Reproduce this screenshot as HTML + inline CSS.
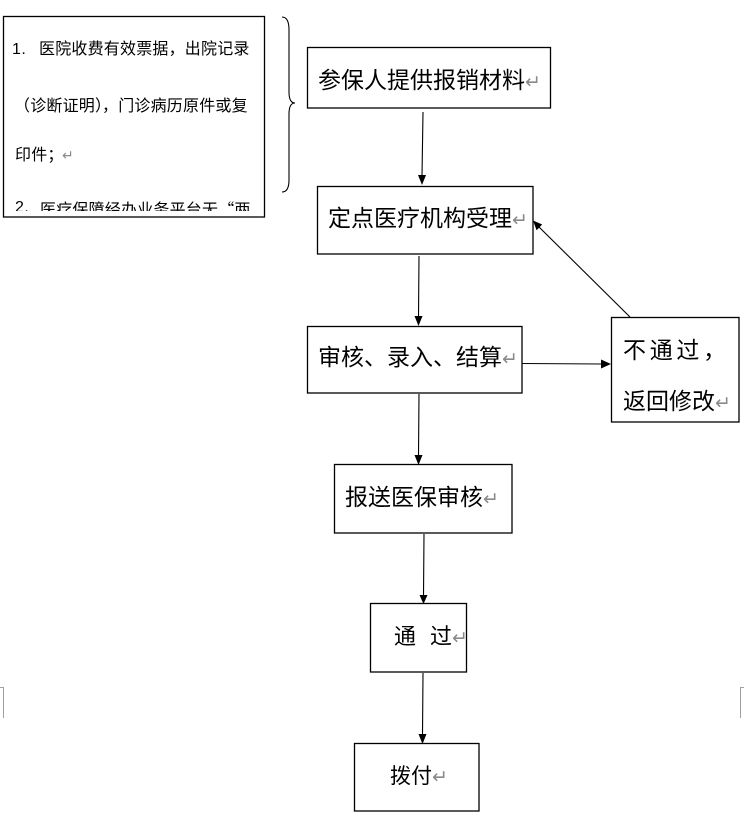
<!DOCTYPE html>
<html>
<head>
<meta charset="utf-8">
<style>
  html,body{margin:0;padding:0;background:#fff;}
  body{width:744px;height:830px;position:relative;overflow:hidden;}
  .t{position:absolute;white-space:nowrap;color:#000;
     font-family:"Liberation Sans","Noto Sans CJK SC",sans-serif;}
  .b{font-size:23px;line-height:23px;}
  .s{font-size:16px;line-height:16px;letter-spacing:0.2px;}
  .r{font-family:"DejaVu Sans",sans-serif;color:#8a8a8a;font-size:19px;letter-spacing:0;}
  .rs{font-family:"DejaVu Sans",sans-serif;color:#8a8a8a;font-size:14px;letter-spacing:0;}
  .cjk{font-family:"Noto Sans CJK SC",sans-serif;}
  #clip{position:absolute;left:0;top:0;width:264px;height:211px;overflow:hidden;}
  svg{position:absolute;left:0;top:0;}
</style>
</head>
<body>
<svg width="744" height="830" viewBox="0 0 744 830">
  <g fill="none" stroke="#000" stroke-width="1.3">
    <rect x="3.5" y="16.5" width="261" height="200.5"/>
    <rect x="307.5" y="47.5" width="243" height="60.5"/>
    <rect x="317.5" y="186.5" width="215.5" height="67.5"/>
    <rect x="307.5" y="326.5" width="214.5" height="66.5"/>
    <rect x="611.5" y="317.5" width="127.5" height="104.5"/>
    <rect x="334.5" y="464.5" width="177.5" height="68.5"/>
    <rect x="370.5" y="603.5" width="96" height="68.5"/>
    <rect x="354.5" y="743.5" width="124.5" height="67.5"/>
    <path d="M282,17 Q289,17 289,30 L289,92 Q289,103 295,103 Q289,103 289,114 L289,180 Q289,192 282,192" stroke-width="1.1"/>
  </g>
  <g stroke="#000" stroke-width="1.1" fill="none">
    <line x1="423" y1="112" x2="422" y2="176"/>
    <line x1="419" y1="256" x2="418.5" y2="317"/>
    <line x1="522" y1="363.5" x2="602" y2="364"/>
    <line x1="630" y1="317" x2="538" y2="226"/>
    <line x1="419" y1="394" x2="418.5" y2="456"/>
    <line x1="424" y1="534" x2="423.5" y2="596"/>
    <line x1="423" y1="673" x2="422.5" y2="735"/>
  </g>
  <g fill="#000">
    <polygon points="418,175 426,175 422,185"/>
    <polygon points="414.5,316 422.5,316 418.5,326"/>
    <polygon points="601,359.5 601,368.5 611,364"/>
    <polygon points="542.2,224.5 536.6,230.2 533,220.5"/>
    <polygon points="414.5,455 422.5,455 418.5,465"/>
    <polygon points="419.5,595 427.5,595 423.5,604"/>
    <polygon points="418.5,734 426.5,734 422.5,744"/>
  </g>
  <g stroke="#a0a0a0" stroke-width="1" fill="none">
    <path d="M0,687.5 L3.5,687.5 L3.5,718"/>
    <path d="M744,687.5 L740.5,687.5 L740.5,718"/>
  </g>
</svg>

<div id="clip">
  <div class="t s" style="left:12px;top:42px;letter-spacing:0.5px;">1.</div>
  <div class="t s" style="left:39px;top:42px;">医院收费有效票据，出院记录</div>
  <div class="t s" style="left:14px;top:99px;">（诊断证明）</div>
  <div class="t s" style="left:102px;top:99px;">，门诊病历原件或复</div>
  <div class="t s" style="left:15px;top:148px;">印件；</div>
  <div class="t s" style="left:62px;top:148px;"><span class="rs">↵</span></div>
  <div class="t s" style="left:15px;top:200px;letter-spacing:0.5px;">2.</div>
  <div class="t s" style="left:40px;top:200px;">医疗保障经办业务平台无<span class="cjk">“</span>两</div>
</div>

<div class="t b" style="left:318px;top:69px;">参保人提供报销材料<span class="r">↵</span></div>
<div class="t b" style="left:328px;top:207px;">定点医疗机构受理<span class="r">↵</span></div>
<div class="t b" style="left:318px;top:346px;">审核、录入、结算<span class="r">↵</span></div>
<div class="t b" style="left:623px;top:339px;letter-spacing:3.7px;">不通过，</div>
<div class="t b" style="left:623px;top:390px;">返回修改<span class="r">↵</span></div>
<div class="t b" style="left:345px;top:486px;">报送医保审核<span class="r">↵</span></div>
<div class="t b" style="left:394px;top:625px;font-size:22px;line-height:23px;">通</div>
<div class="t b" style="left:430px;top:625px;font-size:22px;line-height:23px;">过<span class="r">↵</span></div>
<div class="t b" style="left:390px;top:765px;font-size:21px;line-height:23px;">拨付<span class="r">↵</span></div>
</body>
</html>
